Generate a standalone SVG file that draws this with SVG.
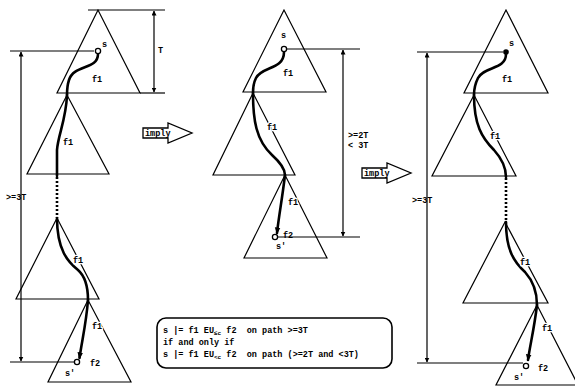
<svg xmlns="http://www.w3.org/2000/svg" width="575" height="387" viewBox="0 0 575 387">
<defs>
<marker id="ah" viewBox="0 0 10 10" refX="9" refY="5" markerWidth="5" markerHeight="5" orient="auto-start-reverse" markerUnits="userSpaceOnUse">
<path d="M0,0 L10,5 L0,10 Z" fill="#000"/>
</marker>
<marker id="ph" viewBox="0 0 10 10" refX="8" refY="5" markerWidth="7" markerHeight="7" orient="auto" markerUnits="userSpaceOnUse">
<path d="M0,1 L10,5 L0,9 Z" fill="#000"/>
</marker>
</defs>
<style>
.tri{fill:none;stroke:#000;stroke-width:1.2}
.ln{fill:none;stroke:#000;stroke-width:1.2}
.dim{fill:none;stroke:#000;stroke-width:1.2;marker-start:url(#ah);marker-end:url(#ah)}
.path{fill:none;stroke:#000;stroke-width:2.6;stroke-linecap:round}
.dot{fill:none;stroke:#000;stroke-width:2.6;stroke-dasharray:2 2}
.lab{font-family:"Liberation Mono",monospace;font-weight:bold;font-size:8.5px;fill:#000;paint-order:stroke;stroke:#fff;stroke-width:2.5px}
.txt{font-family:"Liberation Mono",monospace;font-weight:bold;font-size:8.5px;fill:#000;white-space:pre}
.sub{font-size:6px}
.st{fill:#fff;stroke:#000;stroke-width:1.3}
</style>

<g id="left-col">
<g id="L1"><polygon class="tri" points="98,10 57,93 140,93"/></g>
<g id="L2"><polygon class="tri" points="67,95 27,174 109,174"/></g>
<g id="L3"><polygon class="tri" points="57,218 16,299 99,299"/></g>
<g id="L4"><polygon class="tri" points="88,300 48,382 131,382"/></g>
</g>

<g id="mid-col">
<g id="M1"><polygon class="tri" points="284,10 243,92 326,92"/></g>
<g id="M2"><polygon class="tri" points="253,93 213,175 295,175"/></g>
<g id="M3"><polygon class="tri" points="285,175 244,258 327,258"/></g>
</g>

<g id="right-col">
<g id="R1"><polygon class="tri" points="506,10 464,93 548,93"/></g>
<g id="R2"><polygon class="tri" points="474,95 432,176 516,176"/></g>
<g id="R3"><polygon class="tri" points="505,222 463,303 548,303"/></g>
<g id="R4"><polygon class="tri" points="537,305 496,385 578,385"/></g>
</g>

<g id="connectors">
<!-- left -->
<line class="ln" x1="88" y1="10" x2="165" y2="10"/>
<line class="ln" x1="140" y1="93" x2="165" y2="93"/>
<line class="dim" x1="154" y1="11" x2="154" y2="92"/>
<line class="ln" x1="10" y1="51" x2="94" y2="51"/>
<line class="ln" x1="10" y1="362" x2="74" y2="362"/>
<line class="dim" x1="21" y1="52" x2="21" y2="361"/>
<path class="path" d="M98,54 C98,70 74,64 69,80 C67,86 67,90 67,95"/>
<path class="path" d="M67,95 C66,120 58,135 57,150 L57,176"/>
<line class="dot" x1="57" y1="177" x2="57" y2="218"/>
<path class="path" d="M57,218 C57,250 68,262 78,270 C86,277 88,288 88,300"/>
<path class="path" d="M88,300 C86,325 82,340 79.5,358" marker-end="url(#ph)"/>
<!-- middle -->
<line class="ln" x1="287" y1="49" x2="360" y2="49"/>
<line class="ln" x1="278" y1="237" x2="360" y2="237"/>
<line class="dim" x1="343" y1="50" x2="343" y2="236"/>
<path class="path" d="M284,52 C284,70 262,66 256,78 C253,84 253,88 253,93"/>
<path class="path" d="M253,93 C253,120 256,140 272,155 C282,164 285,170 285,175"/>
<path class="path" d="M285,175 C282,200 279,215 277,233" marker-end="url(#ph)"/>
<!-- right -->
<line class="ln" x1="417" y1="52" x2="503" y2="52"/>
<line class="ln" x1="417" y1="363" x2="523" y2="363"/>
<line class="dim" x1="427" y1="53" x2="427" y2="362"/>
<path class="path" d="M506,54 C506,70 484,66 478,78 C475,84 474,90 474,95"/>
<path class="path" d="M474,95 C474,125 482,138 494,150 C503,160 506,168 506,177"/>
<line class="dot" x1="506" y1="178" x2="506" y2="222"/>
<path class="path" d="M506,222 C506,250 514,262 525,272 C534,282 537,292 537,305"/>
<path class="path" d="M537,305 C534,330 530,345 528,360" marker-end="url(#ph)"/>
</g>

<g id="states">
<circle class="st" cx="98" cy="51" r="2.6"/>
<circle class="st" cx="77" cy="362" r="2.6"/>
<circle class="st" cx="284" cy="49" r="2.6"/>
<circle class="st" cx="275" cy="237" r="2.6"/>
<circle cx="506" cy="52" r="2.8" fill="#000"/>
<circle class="st" cx="526" cy="366" r="2.6"/>
</g>

<g id="labels">
<text class="lab" x="102" y="47">s</text>
<text class="lab" x="92" y="82">f1</text>
<text class="lab" x="158" y="53">T</text>
<text class="lab" x="63" y="145">f1</text>
<text class="lab" x="73" y="263">f1</text>
<text class="lab" x="92" y="329">f1</text>
<text class="lab" x="90" y="366">f2</text>
<text class="lab" x="65" y="376">s'</text>
<text class="txt" x="6" y="200">&gt;=3T</text>

<text class="lab" x="281" y="38">s</text>
<text class="lab" x="283" y="76">f1</text>
<text class="lab" x="267" y="130">f1</text>
<text class="lab" x="288" y="205">f1</text>
<text class="lab" x="276" y="249">s'</text>
<text class="txt" x="283" y="238">f2</text>
<text class="txt" x="348" y="138">&gt;=2T</text>
<text class="txt" x="348" y="148">&lt; 3T</text>

<text class="lab" x="509" y="46">s</text>
<text class="lab" x="502" y="82">f1</text>
<text class="lab" x="490" y="139">f1</text>
<text class="lab" x="520" y="265">f1</text>
<text class="lab" x="542" y="331">f1</text>
<text class="lab" x="538" y="371">f2</text>
<text class="lab" x="514" y="380">s'</text>
<text class="txt" x="412" y="203">&gt;=3T</text>
</g>

<g id="imply1">
<path class="st" d="M143,128 L168,128 L168,123 L192,133 L168,143 L168,138 L143,138 Z"/>
<text class="txt" x="145" y="136">imply</text>
</g>
<g id="imply2">
<path class="st" d="M362,168 L387,168 L387,163 L411,173 L387,183 L387,178 L362,178 Z"/>
<text class="txt" x="364" y="176">imply</text>
</g>

<g id="legend">
<rect x="157" y="318" width="235" height="50" rx="9" ry="9" fill="#fff" stroke="#000" stroke-width="1.6"/>
<text class="txt" x="163" y="333">s |= f1 EU<tspan class="sub" dy="2">≤c</tspan><tspan dy="-2"> f2  on path &gt;=3T</tspan></text>
<text class="txt" x="163" y="345">if and only if</text>
<text class="txt" x="163" y="357">s |= f1 EU<tspan class="sub" dy="2">&lt;c</tspan><tspan dy="-2"> f2  on path (&gt;=2T and &lt;3T)</tspan></text>
</g>
</svg>
